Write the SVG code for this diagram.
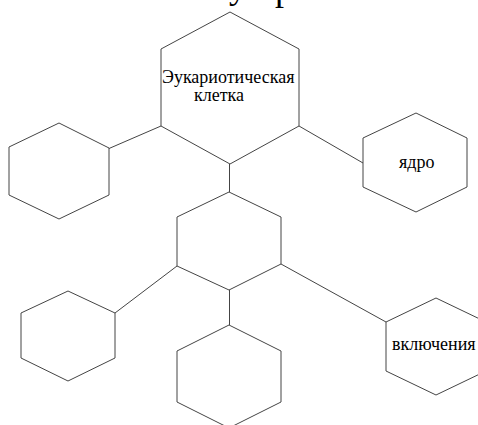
<svg xmlns="http://www.w3.org/2000/svg" width="478" height="425" viewBox="0 0 478 425">
<style>
.hex{fill:#fff;stroke:#444;stroke-width:1}
.con{stroke:#444;stroke-width:1;fill:none}
.lbl{font-family:"Liberation Serif","Times New Roman",serif;font-size:18px;fill:#000}
.ttl{font-family:"Liberation Serif","Times New Roman",serif;font-size:36px;fill:#000}
</style>
<rect width="478" height="425" fill="#fff"/>
<g id="title-fragment">
<text class="ttl" x="238" y="-2" text-anchor="middle">у</text>
<text class="ttl" x="284" y="0" text-anchor="middle">р</text>
</g>
<g id="connectors">
<line class="con" x1="109" y1="148.5" x2="161" y2="126"/>
<line class="con" x1="299" y1="126" x2="363" y2="163"/>
<line class="con" x1="229.5" y1="164" x2="229.5" y2="192"/>
<line class="con" x1="115" y1="313" x2="177" y2="266"/>
<line class="con" x1="281" y1="264" x2="386" y2="322"/>
<line class="con" x1="229.5" y1="290" x2="229.5" y2="325"/>
</g>
<g id="node-cell">
<polygon class="hex" points="230,12 299,49 299,126 230,164 161,126 161,49"/>
<text class="lbl" x="162" y="83">Эукариотическая</text>
<text class="lbl" x="194" y="101">клетка</text>
</g>
<g id="node-left">
<polygon class="hex" points="59,123 109,148 109,195 59,219 9,195 9,147"/>
</g>
<g id="node-nucleus">
<polygon class="hex" points="416,113 467,138 467,187 416,212 363,187 363,138"/>
<text class="lbl" x="399" y="168">ядро</text>
</g>
<g id="node-middle">
<polygon class="hex" points="229,192 281,217 281,264 229,290 177,266 177,217"/>
</g>
<g id="node-bottom-left">
<polygon class="hex" points="68,291 115,313 115,358 68,381 21,358 21,313"/>
</g>
<g id="node-bottom">
<polygon class="hex" points="229,325 281,351 281,402 229,428 177,402 177,351"/>
</g>
<g id="node-inclusions">
<polygon class="hex" points="436,298 486,322 486,371 436,395 386,371 386,322"/>
<text class="lbl" x="392" y="350">включения</text>
</g>
</svg>
